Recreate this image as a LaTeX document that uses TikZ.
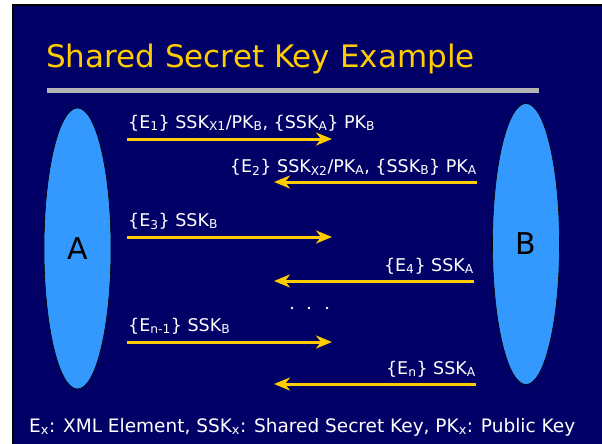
\documentclass[tikz,border=0pt]{standalone}
\usepackage{fontspec}
\setmainfont{DejaVu Sans}
\usetikzlibrary{arrows.meta,shapes.geometric}
\definecolor{slidebg}{HTML}{000066}
\definecolor{gold}{HTML}{FFCC00}
\definecolor{sky}{HTML}{3399FF}
\definecolor{rule}{HTML}{B4B4B4}

\begin{document}
\begin{tikzpicture}[x=1pt,y=-1pt,
  msg/.style={draw=gold, line width=3pt, -{Stealth[length=16pt,width=13pt,inset=5pt]}},
  lbl/.style={text=white, font=\fontsize{17.5}{20}\selectfont, inner sep=0pt},
  party/.style={ellipse, draw=black, line width=0.6pt, fill=sky, inner sep=0pt,
    minimum width=67pt, minimum height=281pt, text=black,
    font=\fontsize{30}{34}\selectfont},
  titletext/.style={text=gold, font=\fontsize{31}{37}\selectfont, inner sep=0pt},
  notetext/.style={text=white, font=\fontsize{18.5}{22}\selectfont, inner sep=0pt}]

\useasboundingbox (0,0) rectangle (602,444);
\fill[white] (0,0) rectangle (602,444);
\fill[slidebg] (13,5) rectangle (602,444);
\draw[black, line width=1.5pt] (13,444) -- (13,5) -- (602,5);

% title and rule under it
\node[titletext, anchor=base west] (title) at (46,67) {Shared Secret Key Example};
\fill[rule] (47,88) rectangle (539,93);
\draw[gray!60, line width=1pt, dash pattern=on 2pt off 3pt] (47,90.5) -- (539,90.5);

% the two parties
\node[party] (A) at (77.5,248.5) {A};
\node[party] (B) at (526,244) {B};

% message arrows
\coordinate (m1s) at (127,139); \coordinate (m1e) at (332,139);
\coordinate (m2s) at (477,182); \coordinate (m2e) at (274,182);
\coordinate (m3s) at (127,237); \coordinate (m3e) at (332,237);
\coordinate (m4s) at (474,281); \coordinate (m4e) at (274,281);
\coordinate (m5s) at (127,342); \coordinate (m5e) at (332,342);
\coordinate (m6s) at (476,384); \coordinate (m6e) at (274,384);

\draw[msg] (m1s) -- (m1e);
\draw[msg] (m2s) -- (m2e);
\draw[msg] (m3s) -- (m3e);
\draw[msg] (m4s) -- (m4e);
\draw[msg] (m5s) -- (m5e);
\draw[msg] (m6s) -- (m6e);

% message labels
\node[lbl, anchor=base west] (l1) at (128,128)
  {\{E\textsubscript{1}\} SSK\textsubscript{X1}/PK\textsubscript{B}, \{SSK\textsubscript{A}\} PK\textsubscript{B}};
\node[lbl, anchor=base east] (l2) at (477,172)
  {\{E\textsubscript{2}\} SSK\textsubscript{X2}/PK\textsubscript{A}, \{SSK\textsubscript{B}\} PK\textsubscript{A}};
\node[lbl, anchor=base west] (l3) at (128,226)
  {\{E\textsubscript{3}\} SSK\textsubscript{B}};
\node[lbl, anchor=base east] (l4) at (474,271)
  {\{E\textsubscript{4}\} SSK\textsubscript{A}};
\node[lbl, anchor=base west] (l5) at (128,331)
  {\{E\textsubscript{n-1}\} SSK\textsubscript{B}};
\node[lbl, anchor=base east] (l6) at (476,374)
  {\{E\textsubscript{n}\} SSK\textsubscript{A}};

% ellipsis between messages
\foreach \x in {292,309,327} \fill[white] (\x,308) circle (1.3);

% legend
\node[notetext, anchor=base west] (note) at (29,432)
  {E\textsubscript{x}: XML Element, SSK\textsubscript{x}: Shared Secret Key, PK\textsubscript{x}: Public Key};
\end{tikzpicture}
\end{document}
